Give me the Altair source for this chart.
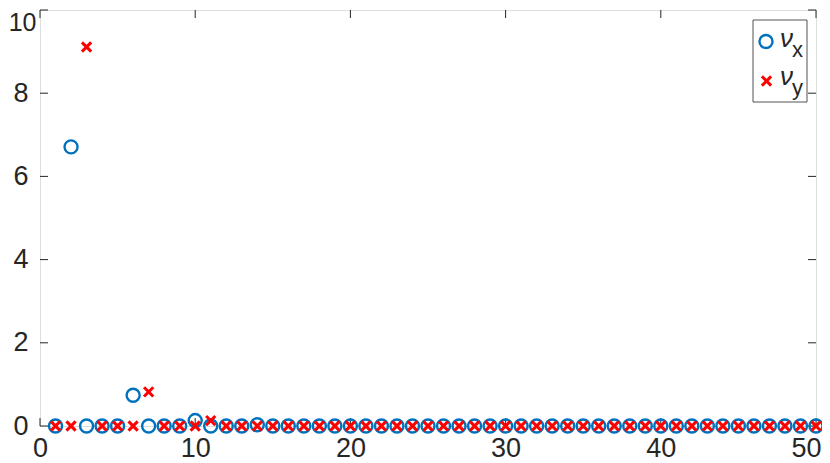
import altair as alt
import pandas as pd

# ---- data ----
index = list(range(1, 51))
nu_x = [0, 6.71, 0, 0, 0, 0.74, 0, 0, 0, 0.13, 0, 0, 0, 0.03] + [0] * 36
nu_y = [0, 0, 9.11, 0, 0, 0, 0.82, 0, 0, 0, 0.13] + [0] * 39
x_ticks = [0, 10, 20, 30, 40, 50]
y_ticks = [0, 2, 4, 6, 8, 10]

W, H = 776, 416
AX = "#262626"
BLUE = "#0072BD"
RED = "#FF0000"
FONT = "Liberation Sans"

df_x = pd.DataFrame({"i": index, "v": nu_x})
df_y = pd.DataFrame({"i": index, "v": nu_y})
df_xt = pd.DataFrame({"t": x_ticks})
df_yt = pd.DataFrame({"t": y_ticks})

xs = alt.Scale(domain=[0, 50], nice=False, zero=False)
ys = alt.Scale(domain=[0, 10], nice=False, zero=False)

x_axis = alt.Axis(values=x_ticks, ticks=False, domain=False, grid=False, title=None,
                  labelFontSize=27, labelFont=FONT, labelColor=AX, labelPadding=9,
                  labelOverlap=False, labelFlush=False,
                  labelAlign={"condition": {"test": "datum.value == 50", "value": "right"},
                              "value": "center"},
                  labelOffset={"condition": {"test": "datum.value == 50", "value": 5},
                               "value": 0})
y_axis = alt.Axis(values=y_ticks, ticks=False, domain=False, grid=False, title=None,
                  labelFont=FONT, labelColor=AX,
                  labelOverlap=False, labelFlush=False,
                  labelFontSize={"condition": {"test": "datum.value == 10", "value": 25},
                                 "value": 27},
                  labelPadding={"condition": {"test": "datum.value == 10", "value": 4},
                                "value": 12},
                  labelBaseline={"condition": {"test": "datum.value == 10", "value": "top"},
                                 "value": "middle"},
                  labelOffset={"condition": {"test": "datum.value == 10", "value": 0},
                               "value": 0})

circles = alt.Chart(df_x).mark_point(
    shape="circle", filled=False, size=170, strokeWidth=2.4, color=BLUE, opacity=1
).encode(
    x=alt.X("i:Q", scale=xs, axis=x_axis),
    y=alt.Y("v:Q", scale=ys, axis=y_axis),
)

XPATH = "M-1,-1L1,1M-1,1L1,-1"
crosses = alt.Chart(df_y).mark_point(
    shape=XPATH, filled=False, size=85, strokeWidth=3, color=RED, opacity=1
).encode(
    x=alt.X("i:Q", scale=xs),
    y=alt.Y("v:Q", scale=ys),
)

# inner ticks (MATLAB style) on all four sides
tick_len = 8
xt_bottom = alt.Chart(df_xt).mark_rule(color=AX, strokeWidth=1).encode(
    x=alt.X("t:Q", scale=xs), y=alt.value(H), y2=alt.value(H - tick_len))
xt_top = alt.Chart(df_xt).mark_rule(color=AX, strokeWidth=1).encode(
    x=alt.X("t:Q", scale=xs), y=alt.value(0), y2=alt.value(tick_len))
yt_left = alt.Chart(df_yt).mark_rule(color=AX, strokeWidth=1).encode(
    y=alt.Y("t:Q", scale=ys), x=alt.value(0), x2=alt.value(tick_len))
yt_right = alt.Chart(df_yt).mark_rule(color=AX, strokeWidth=1).encode(
    y=alt.Y("t:Q", scale=ys), x=alt.value(W), x2=alt.value(W - tick_len))

# legend box
leg_df = pd.DataFrame({"a": [0]})
leg_box = alt.Chart(leg_df).mark_rect(
    fill="white", stroke=AX, strokeWidth=0.8
).encode(x=alt.value(713), x2=alt.value(767), y=alt.value(10), y2=alt.value(92))

leg_circle = alt.Chart(leg_df).mark_point(
    shape="circle", filled=False, size=170, strokeWidth=2.4, color=BLUE, opacity=1
).encode(x=alt.value(726), y=alt.value(31.5))
leg_cross = alt.Chart(leg_df).mark_point(
    shape=XPATH, filled=False, size=85, strokeWidth=3, color=RED, opacity=1
).encode(x=alt.value(726.5), y=alt.value(71))

def txt(s, x, y, size, italic=False):
    return alt.Chart(leg_df).mark_text(
        text=s, align="left", baseline="alphabetic", fontSize=size, font=FONT,
        fontStyle="italic" if italic else "normal", color=AX
    ).encode(x=alt.value(x), y=alt.value(y))

leg_texts = [
    txt("ν", 740, 37, 26, italic=True),
    txt("x", 752, 47, 22),
    txt("ν", 740, 75, 26, italic=True),
    txt("y", 752, 85, 22),
]

chart = alt.layer(
    xt_bottom, xt_top, yt_left, yt_right,
    circles, crosses,
    leg_box, leg_circle, leg_cross, *leg_texts
).properties(
    width=W, height=H,
    autosize=alt.AutoSizeParams(type="none"),
    padding={"left": 32, "top": 2, "right": 6, "bottom": 37},
).configure_view(
    stroke=AX, strokeWidth=1
).configure(background="white")

chart.save("out.html", embed_options={"renderer": "svg", "actions": False})
